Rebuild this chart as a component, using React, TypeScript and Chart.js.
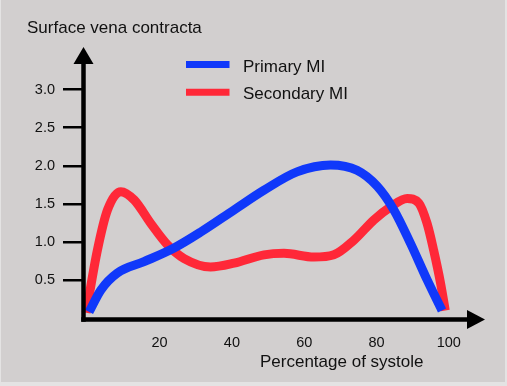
import React, { useEffect, useRef } from "react";
import { Chart, registerables } from "chart.js";

Chart.register(...registerables);

const yAxisTitle = "Surface vena contracta";
const xAxisTitle = "Percentage of systole";
const seriesLabels = ["Primary MI", "Secondary MI"];
const seriesColors = ["#1038fa", "#ff2838"];

const xTickValues = [20, 40, 60, 80, 100];
const yTickValues = [0.5, 1.0, 1.5, 2.0, 2.5, 3.0];

const primaryX = [0.5, 3.8, 8.3, 15.7, 24, 31.4, 40.6, 48.9, 58, 67.3, 74.6, 80.2, 84.8, 89.4, 94, 98.1];
const primaryY = [0.08, 0.37, 0.59, 0.74, 0.92, 1.13, 1.42, 1.68, 1.92, 2.01, 1.94, 1.73, 1.42, 0.98, 0.5, 0.1];

const secondaryX = [-0.3, 2.8, 5.6, 9.3, 13, 17.6, 22.2, 26.8, 34.1, 40.6, 48.9, 54.4, 62.7, 68.2, 73.7, 79.3, 83.9, 88.5, 91.7, 94, 95.8, 97.7, 99];
const secondaryY = [0.07, 0.89, 1.42, 1.66, 1.55, 1.24, 0.96, 0.78, 0.67, 0.72, 0.83, 0.85, 0.8, 0.83, 1.02, 1.29, 1.46, 1.57, 1.51, 1.24, 0.89, 0.46, 0.1];

const FONT = "'Liberation Sans', Arial, sans-serif";

const decorPlugin = {
  id: "decor",
  beforeDraw(chart: any) {
    const ctx = chart.ctx;
    ctx.save();
    ctx.fillStyle = "#e4e3e3";
    ctx.fillRect(0, 0, chart.width, chart.height);
    ctx.fillStyle = "#d2cfcf";
    ctx.fillRect(1, 0, 504, 382);
    ctx.restore();
  },
  afterDraw(chart: any) {
    const ctx = chart.ctx;
    const { left, right, top, bottom } = chart.chartArea;
    ctx.save();
    // axes
    ctx.strokeStyle = "#000";
    ctx.fillStyle = "#000";
    ctx.lineWidth = 4.5;
    ctx.lineCap = "butt";
    const ax = left - 0.5;
    const ay = bottom - 0.5;
    ctx.beginPath();
    ctx.moveTo(ax, top + 14);
    ctx.lineTo(ax, ay + 2.25);
    ctx.stroke();
    ctx.beginPath();
    ctx.moveTo(ax - 2.25, ay);
    ctx.lineTo(right - 16, ay);
    ctx.stroke();
    // arrowheads
    ctx.beginPath();
    ctx.moveTo(ax, top);
    ctx.lineTo(ax + 10, top + 17);
    ctx.lineTo(ax - 10, top + 17);
    ctx.closePath();
    ctx.fill();
    ctx.beginPath();
    ctx.moveTo(right, ay);
    ctx.lineTo(right - 18, ay - 9.5);
    ctx.lineTo(right - 18, ay + 9.5);
    ctx.closePath();
    ctx.fill();
    // titles
    ctx.fillStyle = "#111";
    ctx.font = `17px ${FONT}`;
    ctx.textAlign = "left";
    ctx.textBaseline = "alphabetic";
    ctx.fillText(yAxisTitle, 27, 33);
    ctx.fillText(xAxisTitle, 260, 367);
    // legend
    chart.data.datasets.forEach((ds: any, i: number) => {
      const ly = 64.5 + 27.7 * i;
      ctx.strokeStyle = ds.borderColor;
      ctx.lineWidth = 7;
      ctx.beginPath();
      ctx.moveTo(186, ly);
      ctx.lineTo(229.5, ly);
      ctx.stroke();
      ctx.fillStyle = "#111";
      ctx.fillText(ds.label, 243, 71.7 + 26.8 * i);
    });
    ctx.restore();
  },
};

export default function App() {
  const ref = useRef<HTMLCanvasElement | null>(null);
  useEffect(() => {
    document.body.style.margin = "0";
    document.body.style.overflow = "hidden";
    const canvas = ref.current;
    if (!canvas) return;
    const chart = new Chart(canvas, {
      type: "line",
      data: {
        datasets: [
          {
            label: seriesLabels[0],
            data: primaryX.map((x, i) => ({ x, y: primaryY[i] })),
            borderColor: seriesColors[0],
            backgroundColor: seriesColors[0],
            borderWidth: 9,
            pointRadius: 0,
            cubicInterpolationMode: "monotone",
            borderCapStyle: "butt",
            borderJoinStyle: "round",
            fill: false,
            clip: false as any,
            order: 0,
          },
          {
            label: seriesLabels[1],
            data: secondaryX.map((x, i) => ({ x, y: secondaryY[i] })),
            borderColor: seriesColors[1],
            backgroundColor: seriesColors[1],
            borderWidth: 9,
            pointRadius: 0,
            cubicInterpolationMode: "monotone",
            borderCapStyle: "butt",
            borderJoinStyle: "round",
            fill: false,
            clip: false as any,
            order: 1,
          },
        ] as any,
      },
      options: {
        animation: false,
        responsive: false,
        devicePixelRatio: 1,
        layout: { padding: { top: 47, right: 22, left: 0, bottom: 0 } },
        plugins: {
          legend: { display: false },
          tooltip: { enabled: false },
        },
        scales: {
          x: {
            type: "linear",
            min: -0.9,
            max: 110,
            afterFit: (s: any) => {
              s.height = 66;
            },
            afterBuildTicks: (s: any) => {
              s.ticks = xTickValues.map((v) => ({ value: v }));
            },
            border: { display: false },
            grid: { display: false },
            ticks: {
              autoSkip: false,
              maxRotation: 0,
              padding: 6,
              color: "#111",
              font: { family: FONT, size: 14.5 },
              callback: (v: any) => String(v),
            },
          },
          y: {
            type: "linear",
            min: -0.026,
            max: 3.56,
            afterFit: (s: any) => {
              s.width = 84;
            },
            afterBuildTicks: (s: any) => {
              s.ticks = yTickValues.map((v) => ({ value: v }));
            },
            border: { display: false },
            grid: {
              drawOnChartArea: false,
              drawTicks: true,
              tickLength: 21,
              color: "#000",
              lineWidth: 2.5,
            },
            ticks: {
              autoSkip: false,
              padding: 8,
              color: "#111",
              font: { family: FONT, size: 14.5 },
              callback: (v: any) => Number(v).toFixed(1),
            },
          },
        },
      },
      plugins: [decorPlugin],
    });
    return () => chart.destroy();
  }, []);
  return (
    <canvas
      ref={ref}
      width={507}
      height={386}
      style={{ display: "block", width: 507, height: 386 }}
    />
  );
}
